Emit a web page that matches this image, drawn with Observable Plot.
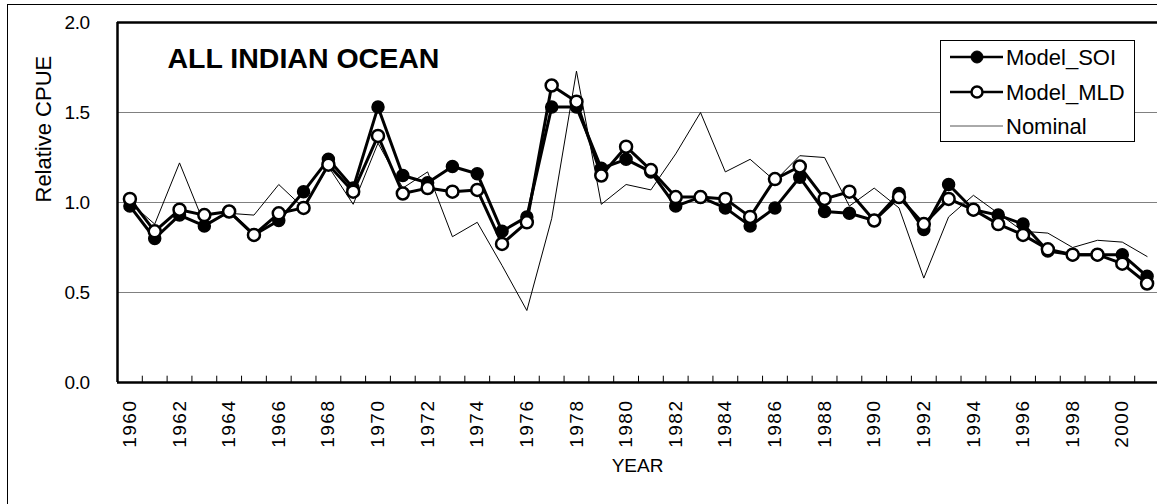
<!DOCTYPE html>
<html>
<head>
<meta charset="utf-8">
<script src="https://cdn.jsdelivr.net/npm/d3@7"></script>
<script src="https://cdn.jsdelivr.net/npm/@observablehq/plot@0.6"></script>
<style>
  html, body { margin: 0; padding: 0; background: #fff; overflow: hidden; width: 1157px; height: 504px; }
  #wrap { position: relative; width: 1157px; height: 504px; }
  #outer { position: absolute; left: 7px; top: 4px; width: 1300px; height: 700px; border-left: 1px solid #000; border-top: 1px solid #000; box-sizing: border-box; }
  #chart { position: absolute; left: 0; top: 0; }
  #legend { position: absolute; left: 940px; top: 40px; width: 195px; height: 102px; }
  g[aria-label="x-axis tick label"] text { letter-spacing: 1.5px; }
  g[aria-label="y-axis tick label"] text { letter-spacing: -0.5px; }
</style>
</head>
<body>
<div id="wrap">
  <div id="outer"></div>
  <div id="chart"></div>
  <div id="legend"></div>
</div>
<script>
const years = d3.range(1960, 2002);
const modelSOI = [0.98,0.80,0.93,0.87,0.95,0.82,0.90,1.06,1.24,1.08,
                  1.53,1.15,1.11,1.20,1.16,0.84,0.92,1.53,1.53,1.19,
                  1.24,1.17,0.98,1.03,0.97,0.87,0.97,1.14,0.95,0.94,
                  0.90,1.05,0.85,1.10,0.96,0.93,0.88,0.73,0.71,0.71,
                  0.71,0.59];
const modelMLD = [1.02,0.84,0.96,0.93,0.95,0.82,0.94,0.97,1.21,1.06,
                  1.37,1.05,1.08,1.06,1.07,0.77,0.89,1.65,1.56,1.15,
                  1.31,1.18,1.03,1.03,1.02,0.92,1.13,1.20,1.02,1.06,
                  0.90,1.03,0.88,1.02,0.96,0.88,0.82,0.74,0.71,0.71,
                  0.66,0.55];
const nominal  = [1.00,0.88,1.22,0.88,0.94,0.93,1.10,0.97,1.20,0.99,
                  1.33,1.08,1.17,0.81,0.89,0.65,0.40,0.91,1.73,0.99,
                  1.10,1.07,1.27,1.50,1.17,1.24,1.12,1.26,1.25,0.98,
                  1.08,0.97,0.58,0.92,1.04,0.94,0.84,0.83,0.75,0.79,
                  0.78,0.70];
const seriesNames = ["Model_SOI", "Model_MLD", "Nominal"];
const yTicks = [0, 0.5, 1.0, 1.5, 2.0];
const gridValues = [0.5, 1.0, 1.5];
const xLabelYears = years.filter(y => y % 2 === 0);
const tickBoundaries = d3.range(1960.5, 2001, 1);
const titleText = "ALL INDIAN OCEAN";
const yLabel = "Relative CPUE";
const xLabel = "YEAR";

const toRows = vals => years.map((year, i) => ({year, value: vals[i]}));
const soiRows = toRows(modelSOI);
const mldRows = toRows(modelMLD);
const nomRows = toRows(nominal);

const font = "'Liberation Sans', Arial, sans-serif";

const chart = Plot.plot({
  width: 1157,
  height: 504,
  marginLeft: 117,
  marginRight: 0,
  marginTop: 22,
  marginBottom: 122,
  style: {fontFamily: font, background: "transparent", overflow: "visible", color: "#000"},
  x: {domain: [1959.5, 2001.5], range: [117, 1159]},
  y: {domain: [0, 2]},
  marks: [
    Plot.ruleY(gridValues, {stroke: "#808080", strokeWidth: 1}),
    Plot.ruleX(tickBoundaries, {y1: 0, y2: 0.035, stroke: "#000", strokeWidth: 1}),
    Plot.line(nomRows, {x: "year", y: "value", stroke: "#000", strokeWidth: 1}),
    Plot.line(soiRows, {x: "year", y: "value", stroke: "#000", strokeWidth: 3}),
    Plot.dot(soiRows, {x: "year", y: "value", r: 6, fill: "#000", stroke: "#000", strokeWidth: 1.5}),
    Plot.line(mldRows, {x: "year", y: "value", stroke: "#000", strokeWidth: 3}),
    Plot.dot(mldRows, {x: "year", y: "value", r: 6, fill: "#fff", stroke: "#000", strokeWidth: 2.5}),
    Plot.ruleY([0], {stroke: "#000", strokeWidth: 2.5}),
    Plot.ruleY([2], {stroke: "#000", strokeWidth: 2.5}),
    Plot.ruleX([1959.5], {stroke: "#000", strokeWidth: 2.5}),
    Plot.axisX({ticks: xLabelYears, tickFormat: d => String(d), tickRotate: -90, tickSize: 0,
                tickPadding: 17, fontSize: 19, label: null}),
    Plot.axisY({ticks: yTicks, tickFormat: d3.format(".1f"), tickSize: 0, tickPadding: 28,
                fontSize: 19, label: null}),
    Plot.text([yLabel], {frameAnchor: "left", dx: -74, rotate: -90, fontSize: 22, fill: "#000"}),
    Plot.text([xLabel], {frameAnchor: "bottom", dy: 89, fontSize: 19, fill: "#000"}),
    Plot.text([titleText], {frameAnchor: "top-left", textAnchor: "start", lineAnchor: "bottom",
                            dx: 50, dy: 45, fontSize: 28.5, fontWeight: "bold", fill: "#000"})
  ]
});
document.getElementById("chart").appendChild(chart);

// legend
const lg = d3.select("#legend").append("svg")
  .attr("width", 195).attr("height", 102)
  .style("font-family", font);
lg.append("rect").attr("x", 0.5).attr("y", 0.5).attr("width", 194).attr("height", 101)
  .attr("fill", "#fff").attr("stroke", "#000").attr("stroke-width", 1);
const rowsY = [17, 52, 86];
seriesNames.forEach((name, i) => {
  const g = lg.append("g").attr("transform", `translate(0,${rowsY[i]})`);
  g.append("line").attr("x1", 10).attr("x2", 63).attr("y1", 0).attr("y2", 0)
    .attr("stroke", i === 2 ? "#555" : "#000").attr("stroke-width", i === 2 ? 1 : 2.5);
  if (i < 2) {
    g.append("circle").attr("cx", 37).attr("cy", 0).attr("r", i === 0 ? 6 : 5.5)
      .attr("fill", i === 0 ? "#000" : "#fff").attr("stroke", "#000").attr("stroke-width", i === 0 ? 1 : 2.5);
  }
  g.append("text").attr("x", 66).attr("y", 0).attr("dy", "0.36em")
    .attr("font-size", 22).attr("fill", "#000").text(name);
});
</script>
</body>
</html>
